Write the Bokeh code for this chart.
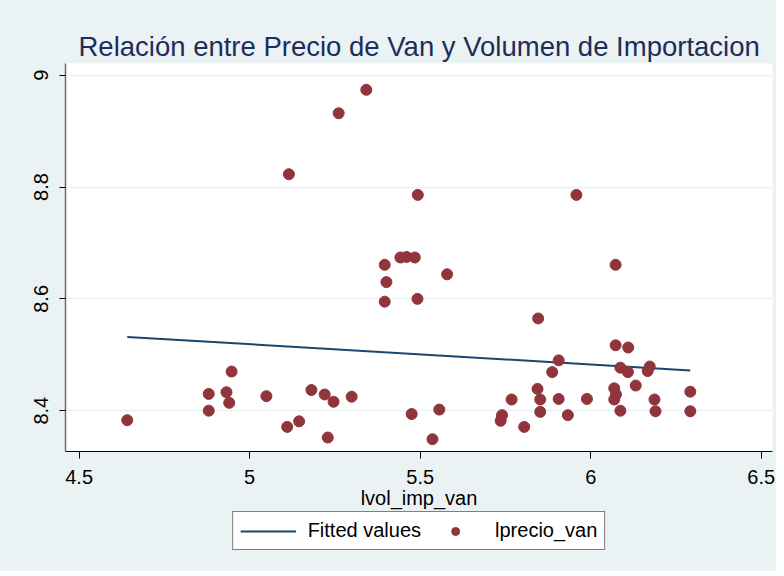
from bokeh.plotting import figure
from bokeh.layouts import column
from bokeh.models import ColumnDataSource, FixedTicker, Legend, LegendItem, Range1d
from bokeh.embed import file_html
from bokeh.resources import INLINE

# ---- data ----
lvol_imp_van = [4.641, 4.880, 4.880, 4.932, 4.940, 4.947, 5.049, 5.115, 5.110, 5.145,
                5.181, 5.220, 5.229, 5.246, 5.261, 5.299, 5.342, 5.396, 5.401, 5.396,
                5.442, 5.460, 5.484, 5.493, 5.492, 5.475, 5.536, 5.556, 5.579, 5.736,
                5.740, 5.768, 5.805, 5.844, 5.846, 5.852, 5.852, 5.887, 5.906, 5.906,
                5.933, 5.958, 5.989, 6.069, 6.074, 6.069, 6.073, 6.073, 6.087, 6.087,
                6.110, 6.109, 6.132, 6.167, 6.173, 6.187, 6.190, 6.292, 6.292]
lprecio_van = [8.383, 8.430, 8.400, 8.433, 8.414, 8.470, 8.426, 8.823, 8.371, 8.381,
               8.437, 8.429, 8.352, 8.416, 8.932, 8.425, 8.974, 8.661, 8.630, 8.595,
               8.674, 8.675, 8.674, 8.786, 8.600, 8.394, 8.349, 8.402, 8.644, 8.382,
               8.392, 8.420, 8.371, 8.439, 8.565, 8.420, 8.398, 8.469, 8.490, 8.421,
               8.392, 8.786, 8.421, 8.440, 8.429, 8.420, 8.661, 8.517, 8.477, 8.400,
               8.513, 8.469, 8.445, 8.471, 8.479, 8.420, 8.399, 8.434, 8.399]
fitted_x = [4.641, 6.292]
fitted_y = [8.532, 8.472]

x_ticks = [4.5, 5.0, 5.5, 6.0, 6.5]
x_tick_labels = ["4.5", "5", "5.5", "6", "6.5"]
y_ticks = [8.4, 8.6, 8.8, 9.0]
y_tick_labels = ["8.4", "8.6", "8.8", "9"]

title_text = "Relación entre Precio de Van y Volumen de Importacion"
x_title = "lvol_imp_van"
legend_labels = ["Fitted values", "lprecio_van"]

FONT = "Liberation Sans"
BG = "#eaf2f3"
LINE_COLOR = "#1a476f"
DOT_COLOR = "#90353b"

p = figure(frame_width=707, frame_height=388,
           output_backend="svg", toolbar_location=None,
           x_range=Range1d(4.460, 6.533), y_range=Range1d(8.327, 9.021),
           min_border_left=65, min_border_right=4, min_border_top=63, min_border_bottom=0)
p.background_fill_color = "white"
p.border_fill_color = BG
p.outline_line_color = None

# title
p.title.text = title_text
p.title.text_font = FONT
p.title.text_font_size = "27.5px"
p.title.text_font_style = "normal"
p.title.text_color = "#1e2d5a"
p.title.align = "left"
p.title.offset = 13
p.title.standoff = 4

# grid
p.xgrid.visible = False
p.ygrid.ticker = FixedTicker(ticks=y_ticks)
p.ygrid.grid_line_color = BG
p.ygrid.grid_line_width = 1.5

# x axis
xa = p.xaxis[0]
xa.ticker = FixedTicker(ticks=x_ticks)
xa.major_label_overrides = {t: l for t, l in zip(x_ticks, x_tick_labels)}
xa.minor_tick_line_color = None
xa.major_tick_in = 0
xa.major_tick_out = 7
xa.axis_line_color = "black"
xa.major_tick_line_color = "black"
xa.major_label_text_font = FONT
xa.major_label_text_font_size = "20px"
xa.major_label_text_color = "black"
xa.major_label_standoff = 11
xa.axis_label = x_title
xa.axis_label_text_font = FONT
xa.axis_label_text_font_size = "20px"
xa.axis_label_text_font_style = "normal"
xa.axis_label_text_color = "black"
xa.axis_label_standoff = 0

# y axis
ya = p.yaxis[0]
ya.ticker = FixedTicker(ticks=y_ticks)
ya.major_label_overrides = {t: l for t, l in zip(y_ticks, y_tick_labels)}
ya.minor_tick_line_color = None
ya.major_tick_in = 0
ya.major_tick_out = 6
ya.axis_line_color = "#6e6e6e"
ya.axis_line_width = 1.5
ya.major_tick_line_color = "black"
ya.major_label_orientation = "vertical"
ya.major_label_text_font = FONT
ya.major_label_text_font_size = "20px"
ya.major_label_text_color = "black"
ya.major_label_standoff = 11

# data
fit_src = ColumnDataSource(dict(x=fitted_x, y=fitted_y))
pts_src = ColumnDataSource(dict(x=lvol_imp_van, y=lprecio_van))
p.line("x", "y", source=fit_src, line_color=LINE_COLOR, line_width=2)
p.scatter("x", "y", source=pts_src, size=11, fill_color=DOT_COLOR,
          line_color=DOT_COLOR, marker="circle")

# ---- legend strip below the chart (its renderers share the data but lie outside its view) ----
q = figure(width=776, height=60, output_backend="svg", toolbar_location=None,
           x_axis_type=None, y_axis_type=None, x_range=Range1d(0, 1), y_range=Range1d(0, 1),
           min_border_left=0, min_border_right=0, min_border_top=0, min_border_bottom=0)
q.background_fill_color = BG
q.border_fill_color = BG
q.outline_line_color = None
q.grid.visible = False
leg_line = q.line("x", "y", source=fit_src, line_color=LINE_COLOR, line_width=2)
leg_dot = q.scatter("x", "y", source=pts_src, size=11, fill_color=DOT_COLOR,
                    line_color=DOT_COLOR, marker="circle")

legend = Legend(items=[LegendItem(label=legend_labels[0], renderers=[leg_line]),
                       LegendItem(label=legend_labels[1], renderers=[leg_dot])],
                orientation="horizontal", location="top_center")
legend.label_text_font = FONT
legend.label_text_font_size = "20px"
legend.label_text_color = "black"
legend.glyph_width = 56
legend.glyph_height = 20
legend.label_standoff = 12
legend.spacing = 6
legend.padding = 7
legend.margin = 0
legend.border_line_color = "black"
legend.border_line_width = 1
legend.background_fill_color = "white"
legend.background_fill_alpha = 1
q.add_layout(legend, "center")

layout = column(p, q, spacing=0, styles={"background-color": BG})
open("out.html", "w").write(file_html(layout, INLINE))
